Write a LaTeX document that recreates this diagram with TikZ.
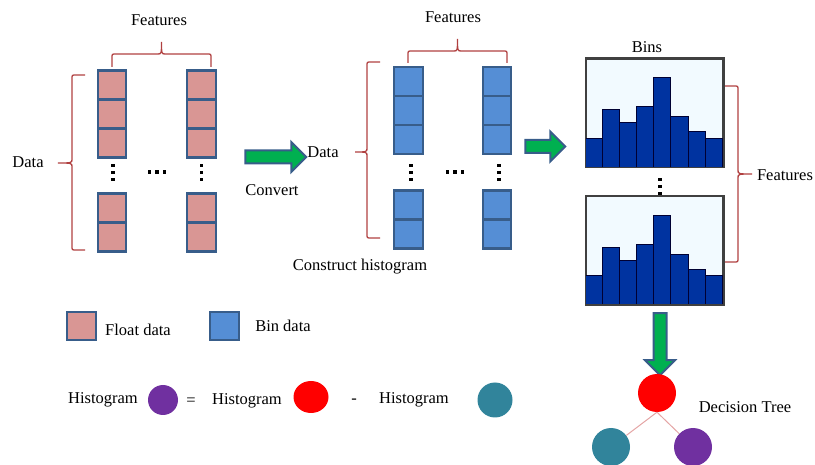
\documentclass[tikz,border=0pt]{standalone}
\usepackage{fontspec}
\setmainfont{Liberation Serif}
\usetikzlibrary{positioning,shapes.arrows,shapes.geometric,calc}
\definecolor{floatc}{RGB}{217,150,148}
\definecolor{binc}{RGB}{85,142,213}
\definecolor{cellline}{RGB}{56,93,138}
\definecolor{barc}{RGB}{0,51,160}
\definecolor{bracec}{RGB}{176,64,64}
\definecolor{arrowc}{RGB}{0,176,80}
\definecolor{histred}{RGB}{255,0,0}
\definecolor{histteal}{RGB}{49,132,155}
\definecolor{histpurple}{RGB}{112,48,160}
\definecolor{boxfill}{RGB}{242,250,255}
\definecolor{edgec}{RGB}{228,165,165}
\tikzset{
	floatcell/.style={rectangle, draw=cellline, fill=floatc, line width=2.4pt, minimum width=28.5pt, minimum height=29pt, inner sep=0pt},
	bincell/.style={rectangle, draw=cellline, fill=binc, line width=2.4pt, minimum width=28.5pt, minimum height=29pt, inner sep=0pt},
	dotsq/.style={rectangle, fill=black, minimum size=3.6pt, inner sep=0pt},
	featbrace/.style={draw=bracec, line width=1.3pt},
	histbox/.style={rectangle, draw=black!75, fill=boxfill, line width=1.5pt, minimum width=137pt, minimum height=108pt, inner sep=0pt},
	histbar/.style={draw=black!80!blue, fill=barc, line width=0.8pt},
	greenarrow/.style={single arrow, draw=cellline, fill=arrowc, line width=2pt, inner xsep=0pt, inner ysep=5.5pt, minimum width=0pt, single arrow head extend=8.5pt},
	histdot/.style={circle, fill=#1, inner sep=0pt, minimum size=38pt},
	treeedge/.style={draw=edgec, line width=1pt}
}
\begin{document}
\begin{tikzpicture}[x=1pt, y=-1pt, font=\fontsize{16.5}{19}\selectfont]
	\useasboundingbox (0,0) rectangle (815,465);

	% float data columns
	\foreach \x/\n in {112/a, 201.5/b}
		\foreach \y [count=\k] in {85,114,143,208,237}
			\node[floatcell] (f\n\k) at (\x,\y) {};
	% bin data columns
	\foreach \x/\n in {408.5/a, 497/b}
		\foreach \y [count=\k] in {81.5,110.5,139.5,205,234}
			\node[bincell] (b\n\k) at (\x,\y) {};

	% dots
	\foreach \y in {165.5,172.5,179.5} {
		\node[dotsq] at (113,\y) {};
		\node[dotsq] at (201.5,\y) {};
		\node[dotsq] at (411,\y) {};
		\node[dotsq] at (499,\y) {};
	}
	\foreach \x in {149.5,157,164.5} {
		\node[dotsq] at (\x,172) {};
		\node[dotsq] at (\x+298,172) {};
	}
	\foreach \y in {179.5,186.5,193.5}
		\node[dotsq] at (660,\y) {};

	% histograms
	\node[histbox] at (654.5,113) (hA) {};
	\node[histbox] at (654.5,250.5) (hB) {};
	\foreach \hname in {hA,hB}
		\foreach \h [count=\i from 0] in {29.5,58,45,61,90,51,36,29.5}
			\draw[histbar] ($(\hname.south west)+(\i*17.125,0)$) rectangle ++(17.125,-\h);
	\draw[draw=black!75, line width=1.5pt] (hA.north west) rectangle (hA.south east);
	\draw[draw=black!75, line width=1.5pt] (hB.north west) rectangle (hB.south east);

	% braces
	\draw[featbrace] (112,67) -- (112,58) .. controls (112,54) .. (116,54) -- (157.5,54)
		.. controls (161.5,54) .. (161.5,42) .. controls (161.5,54) .. (165.5,54) -- (207,54)
		.. controls (211,54) .. (211,58) -- (211,67);
	\draw[featbrace] (85,75) -- (76,75) .. controls (72,75) .. (72,79) -- (72,159)
		.. controls (72,163) .. (58,163) .. controls (72,163) .. (72,167) -- (72,246)
		.. controls (72,250) .. (76,250) -- (85,250);
	\draw[featbrace] (408,63) -- (408,55) .. controls (408,51) .. (412,51) -- (453.5,51)
		.. controls (457.5,51) .. (457.5,39) .. controls (457.5,51) .. (461.5,51) -- (503,51)
		.. controls (507,51) .. (507,55) -- (507,63);
	\draw[featbrace] (380,62) -- (371,62) .. controls (367,62) .. (367,66) -- (367,148)
		.. controls (367,152) .. (355,152) .. controls (367,152) .. (367,156) -- (367,234)
		.. controls (367,238) .. (371,238) -- (380,238);
	\draw[featbrace] (725,86) -- (734,86) .. controls (738,86) .. (738,90) -- (738,170)
		.. controls (738,174) .. (752,174) .. controls (738,174) .. (738,178) -- (738,258)
		.. controls (738,262) .. (734,262) -- (725,262);

	% green arrows
	\node[greenarrow, minimum height=61pt] at (272.5,157) (ar1) {};
	\node[greenarrow, minimum height=40pt] at (542,146.5) (ar2) {};
	\node[greenarrow, minimum height=62pt, rotate=-90] at (660,341) (ar3) {};

	% decision tree
	\node[histdot=histred] at (657,393) (tr) {};
	\node[histdot=histteal] at (611,447) (tt) {};
	\node[histdot=histpurple] at (693,447) (tp) {};
	\draw[treeedge] (tr.south) -- (tt);
	\draw[treeedge] (tr.south) -- (tp);

	% legend
	\node[floatcell, minimum size=28.5pt] at (81.5,326) (lf) {};
	\node[bincell, minimum size=28.5pt] at (224.5,326) (lb) {};
	\node[histdot=histpurple, minimum size=30pt] at (163,400) (lp) {};
	\node[histdot=histred, ellipse, minimum width=35pt, minimum height=32pt] at (311,397) (lr) {};
	\node[histdot=histteal, minimum size=35pt] at (495,400) (lt) {};

	% labels
	\node[align=center] at (159,20) (ft1) {Features};
	\node[align=center] at (28,162) (dt1) {Data};
	\node[align=center] at (272,190) (cvt) {Convert};
	\node[align=center] at (453,17) (ft2) {Features};
	\node[align=center] at (323,152) (dt2) {Data};
	\node[align=center] at (360,267) (cht) {Construct histogram};
	\node[align=center] at (647,47) (bnt) {Bins};
	\node[align=center] at (785,175) (ft3) {Features};
	\node[align=center] at (745,407) (dtt) {Decision Tree};
	\node[align=center] at (138,330) (flt) {Float data};
	\node[align=center] at (283,326) (bdt) {Bin data};
	\node[align=center] at (103,400) (hg1) {Histogram};
	\node[align=center] at (191,402) (eqt) {=};
	\node[align=center] at (247,401) (hg2) {Histogram};
	\node[align=center] at (354,401) (mnt) {-};
	\node[align=center] at (414,400) (hg3) {Histogram};
\end{tikzpicture}
\end{document}
